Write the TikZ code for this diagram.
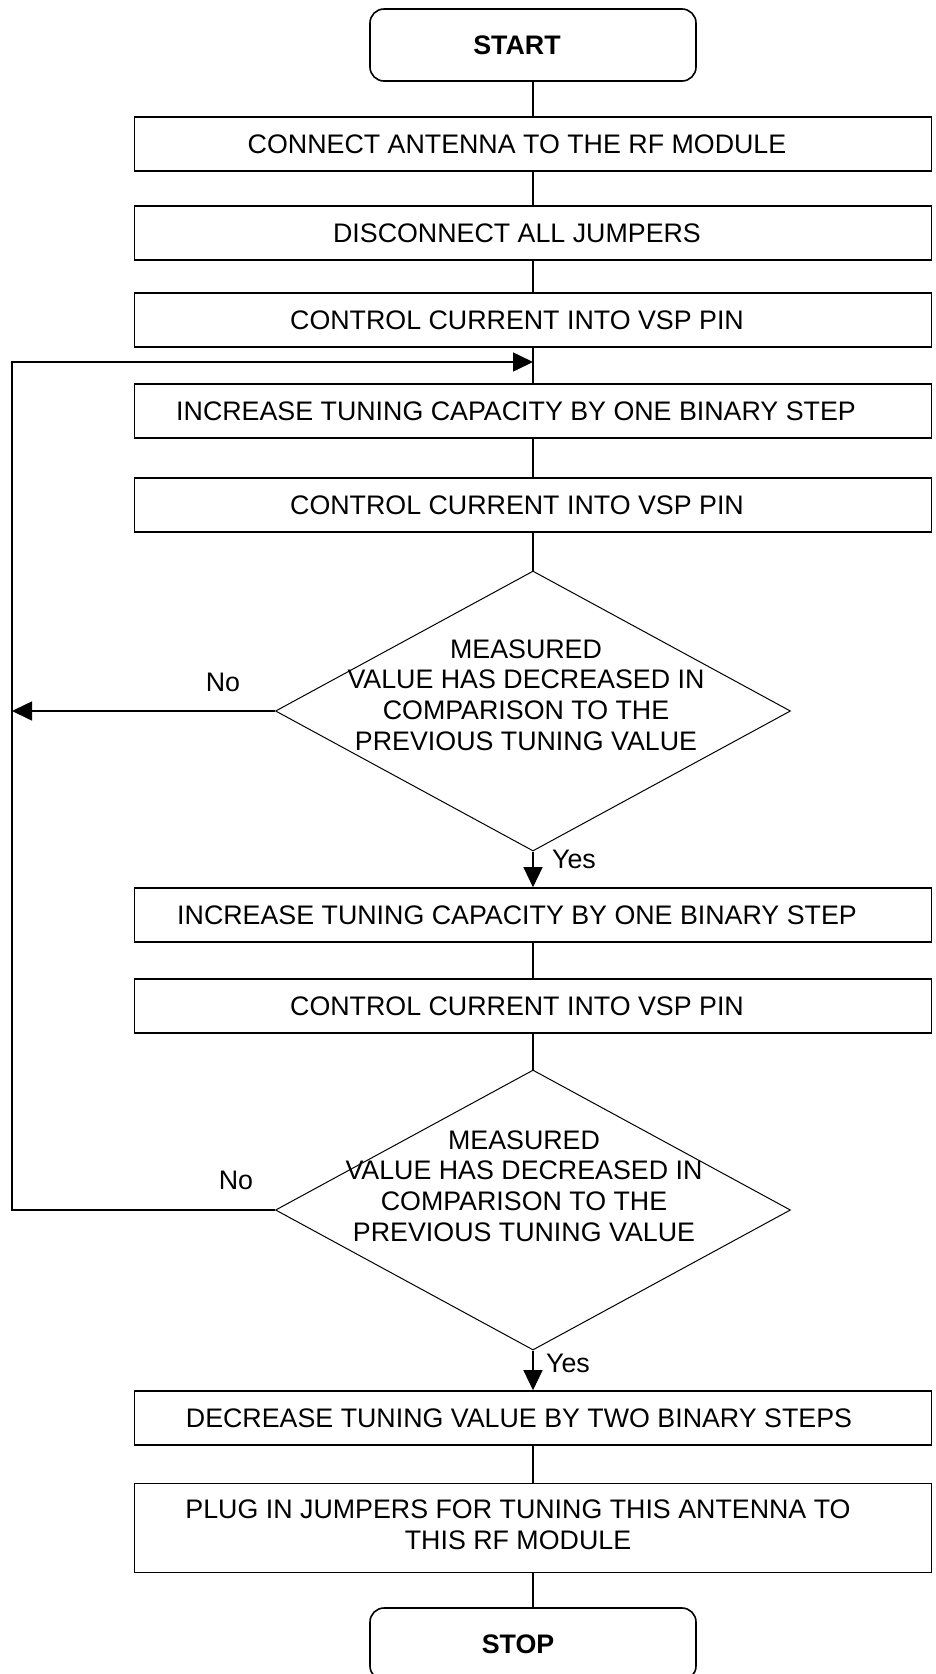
\documentclass[tikz,border=0pt]{standalone}
\usepackage{fontspec}
\setmainfont{Liberation Sans}
\usetikzlibrary{shapes.geometric,arrows.meta}
\begin{document}
\begin{tikzpicture}[x=1pt,y=-1pt,
  every node/.style={inner sep=0pt, font=\fontsize{26.8}{30.6}\selectfont},
  stepbox/.style={draw, line width=1.6pt, minimum width=797pt, minimum height=54pt},
  endbox/.style={draw, line width=1.6pt, rounded corners=14pt, minimum width=326pt, minimum height=72pt},
  testbox/.style={draw, diamond, line width=1pt, minimum width=515pt, minimum height=280pt},
  link/.style={line width=1.2pt},
  loopline/.style={line width=1.6pt},
  tip/.style={-{Triangle[length=20pt,width=19pt]}}]
\useasboundingbox (0,0) rectangle (935,1674);
\node[endbox] (start) at (533,45) {};
\node[font=\fontsize{26.8}{30.6}\selectfont\bfseries] (tstart) at (517,45) {START};
\node[stepbox] (b1) at (533,144) {};
\node (t1) at (517,144) {CONNECT ANTENNA TO THE RF MODULE};
\node[stepbox] (b2) at (533,233) {};
\node (t2) at (517,233) {DISCONNECT ALL JUMPERS};
\node[stepbox] (b3) at (533,320) {};
\node (t3) at (517,320) {CONTROL CURRENT INTO VSP PIN};
\node[stepbox] (b4) at (533,411) {};
\node (t4) at (516,411) {INCREASE TUNING CAPACITY BY ONE BINARY STEP};
\node[stepbox] (b5) at (533,505) {};
\node (t5) at (517,505) {CONTROL CURRENT INTO VSP PIN};
\node[testbox] (d1) at (533,711) {};
\node[align=center] (td1) at (526,695) {MEASURED\\VALUE HAS DECREASED IN\\COMPARISON TO THE\\PREVIOUS TUNING VALUE};
\node[stepbox] (b6) at (533,915) {};
\node (t6) at (517,915) {INCREASE TUNING CAPACITY BY ONE BINARY STEP};
\node[stepbox] (b7) at (533,1006) {};
\node (t7) at (517,1006) {CONTROL CURRENT INTO VSP PIN};
\node[testbox] (d2) at (533,1210) {};
\node[align=center] (td2) at (524,1186) {MEASURED\\VALUE HAS DECREASED IN\\COMPARISON TO THE\\PREVIOUS TUNING VALUE};
\node[stepbox] (b8) at (533,1418) {};
\node (t8) at (519,1418) {DECREASE TUNING VALUE BY TWO BINARY STEPS};
\node[stepbox, minimum height=89pt] (b9) at (533,1528) {};
\node[align=center] (t9) at (518,1525) {PLUG IN JUMPERS FOR TUNING THIS ANTENNA TO\\THIS RF MODULE};
\node[endbox] (stop) at (533,1644) {};
\node[font=\fontsize{26.8}{30.6}\selectfont\bfseries] (tstop) at (518,1644) {STOP};
\node (no1) at (223,682) {No};
\node (yes1) at (574,859) {Yes};
\node (no2) at (236,1180) {No};
\node (yes2) at (568,1363) {Yes};
\coordinate (loop) at (12,362);
\draw[link] (start) -- (b1);
\draw[link] (b1) -- (b2);
\draw[link] (b2) -- (b3);
\draw[link] (b3) -- (b4);
\draw[link] (b4) -- (b5);
\draw[link] (b5) -- (d1);
\draw[link,tip] (d1.south) -- (b6.north);
\draw[loopline,tip] (d1.west) -- (d1.west -| loop);
\draw[link] (b6) -- (b7);
\draw[link] (b7) -- (d2);
\draw[loopline,tip] (d2.west) -| (loop) -- (loop -| b4.north);
\draw[link,tip] (d2.south) -- (b8.north);
\draw[link] (b8) -- (b9);
\draw[link] (b9) -- (stop);
\end{tikzpicture}
\end{document}
